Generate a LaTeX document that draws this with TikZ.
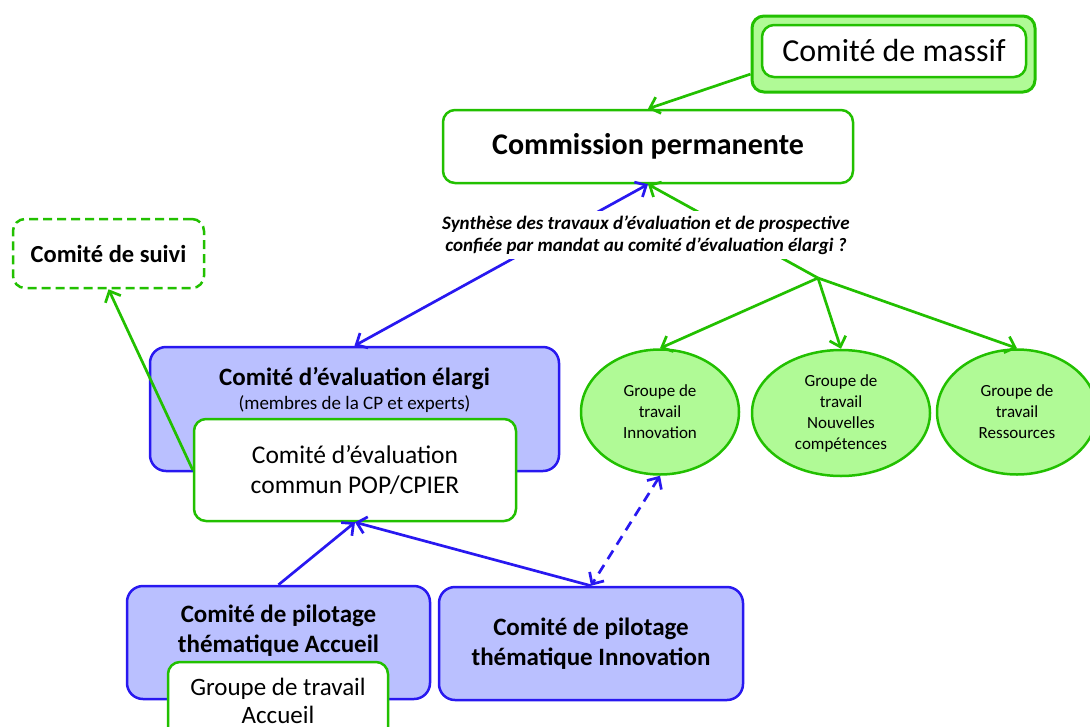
\documentclass[tikz,border=0pt]{standalone}
\usepackage{fontspec}
\setmainfont{Carlito}
\usetikzlibrary{arrows,arrows.meta,shapes.geometric}
\definecolor{vert}{RGB}{34,192,0}
\definecolor{vertclair}{RGB}{176,250,150}
\definecolor{bleu}{RGB}{40,24,240}
\definecolor{bleuclair}{RGB}{186,192,255}

\begin{document}
\begin{tikzpicture}[x=1pt,y=-1pt,>={Straight Barb[length=9pt,width=17pt]},
  boite/.style={draw=vert,line width=2.5pt,rounded corners=12pt,fill=white,align=center},
  comite/.style={draw=bleu,fill=bleuclair,line width=2.5pt,rounded corners=16pt,align=center},
  groupe/.style={ellipse,draw=vert,fill=vertclair,line width=2.5pt,align=center,inner sep=0pt,font=\fontsize{17}{21}\selectfont},
  fv/.style={draw=vert,line width=2.7pt,->},
  fb/.style={draw=bleu,line width=2.7pt,->}]
  \useasboundingbox (0,0) rectangle (1090,726);

  % haut
  \node[boite,fill=vertclair,line width=3pt,minimum width=283pt,minimum height=76pt] (massifbg) at (893.5,54) {};
  \node[boite,minimum width=264pt,minimum height=52pt,font=\fontsize{32}{36}\selectfont] (massif) at (894,51) {Comité de massif};
  \node[boite,minimum width=410pt,minimum height=73pt,font=\bfseries\fontsize{30}{34}\selectfont] (commission) at (648,146.5) {Commission permanente};
  \node[boite,dashed,dash pattern=on 9pt off 5pt,minimum width=191pt,minimum height=69pt,font=\bfseries\fontsize{24.5}{28}\selectfont] (suivi) at (108.5,253.5) {Comité de suivi};

  % comites
  \node[comite,minimum width=409pt,minimum height=124pt] (elargi) at (354.5,409) {};
  \node[align=center,font=\fontsize{19}{24}\selectfont] (elargititre) at (354.5,389.5)
    {{\bfseries\fontsize{25}{24}\selectfont Comité d’évaluation élargi}\\(membres de la CP et experts)};
  \node[boite,minimum width=322pt,minimum height=102pt,font=\fontsize{25.5}{30}\selectfont] (commun) at (355,470) {Comité d’évaluation\\commun POP/CPIER};
  \node[comite,minimum width=303pt,minimum height=113pt] (pilaccueil) at (278.5,642.5) {};
  \node[align=center,font=\bfseries\fontsize{25}{30}\selectfont] (pilaccueiltxt) at (278.5,631) {Comité de pilotage\\thématique Accueil};
  \node[boite,minimum width=220pt,minimum height=78pt,font=\fontsize{25}{28}\selectfont] (gtaccueil) at (278,701) {Groupe de travail\\Accueil};
  \node[comite,minimum width=304pt,minimum height=113pt,font=\bfseries\fontsize{25}{30}\selectfont] (pilinnov) at (591,643.5) {Comité de pilotage\\thématique Innovation};

  % groupes
  \node[groupe,minimum width=158pt,minimum height=125pt] (gtinnov) at (660,412) {Groupe de\\travail\\Innovation};
  \node[groupe,minimum width=178pt,minimum height=126pt] (gtcomp) at (841,413) {Groupe de\\travail\\Nouvelles\\compétences};
  \node[groupe,minimum width=160pt,minimum height=125pt] (gtress) at (1017,412) {Groupe de\\travail\\Ressources};
  \coordinate (fourche) at (818,278);

  % fleches
  \draw[fv] (massifbg.188) -- (commission.north);
  \draw[fv] (fourche) -- (commission.south);
  \draw[fv] (fourche) -- (gtinnov.north);
  \draw[fv] (fourche) -- (gtcomp.north);
  \draw[fv] (fourche) -- (gtress.north);
  \draw[fb,<->] (elargi.north) -- (commission.south);
  \draw[fv] (commun.west) -- (suivi.south);
  \draw[fb] (pilaccueil.north) -- (commun.south);
  \draw[fb] (pilinnov.north) -- (commun.south);
  \draw[fb,<->,dashed,dash pattern=on 10pt off 7pt] (gtinnov.south) -- (pilinnov.north);

  \node[fill=white,inner sep=5pt,align=center,font=\bfseries\itshape\fontsize{19}{22}\selectfont] (synthese) at (646,235)
    {Synthèse des travaux d’évaluation et de prospective\\confiée par mandat au comité d’évaluation élargi ?};
\end{tikzpicture}
\end{document}
